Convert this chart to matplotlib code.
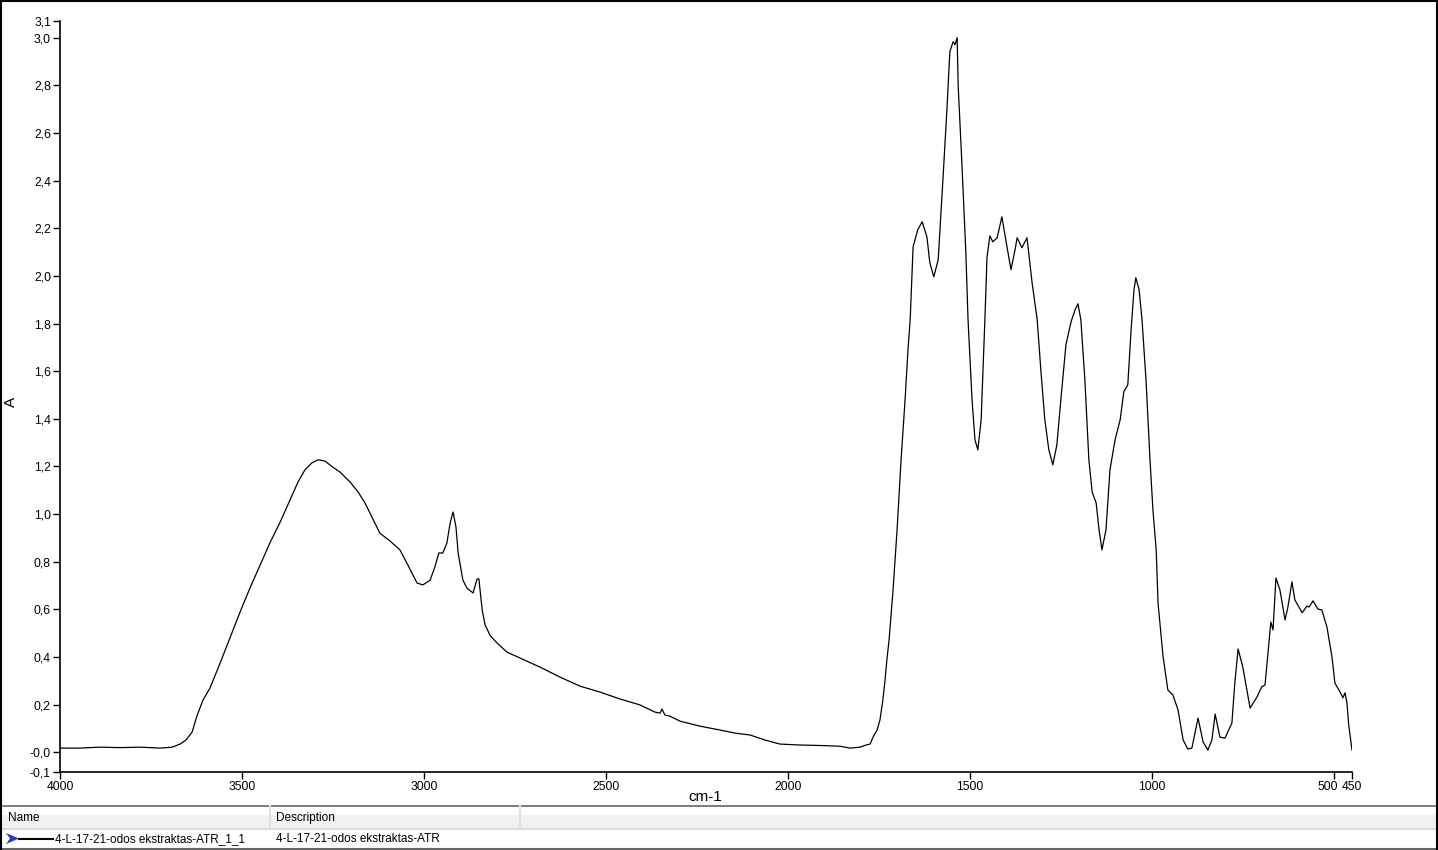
"""
ATR-IR spectrum of 4-L-17-21-odos ekstraktas, redrawn from a screenshot.
"""

import matplotlib
matplotlib.use("Agg")
import matplotlib.pyplot as plt
from matplotlib.patches import Polygon, Rectangle
from matplotlib.transforms import ScaledTranslation

# wavenumber (cm-1) and absorbance
wavenumber = [
    4000, 3945, 3890, 3835, 3780, 3725, 3692, 3670, 3654, 3637, 3624, 3607, 3588,
    3560, 3533, 3505, 3478, 3450, 3423, 3395, 3368, 3346, 3327, 3308, 3291, 3272,
    3253, 3231, 3203, 3181, 3162, 3143, 3121, 3093, 3066, 3047, 3019, 3003, 2983,
    2970, 2959, 2948, 2937, 2928, 2920, 2912, 2906, 2893, 2882, 2865, 2854, 2849,
    2840, 2832, 2818, 2799, 2772, 2736, 2681, 2626, 2571, 2516, 2461, 2406, 2365, 2351,
    2346, 2338, 2324, 2296, 2241, 2187, 2145, 2104, 2063, 2022, 1967, 1912, 1857,
    1829, 1802, 1785, 1774, 1766, 1755, 1747, 1739, 1733, 1728, 1722, 1711, 1700,
    1689, 1678, 1670, 1664, 1656, 1643, 1631, 1618, 1610, 1599, 1587, 1574, 1563,
    1555, 1546, 1541, 1535, 1532, 1522, 1511, 1505, 1494, 1486, 1478, 1469, 1458,
    1453, 1445, 1437, 1425, 1412, 1398, 1387, 1376, 1370, 1357, 1343, 1329, 1315,
    1305, 1294, 1283, 1272, 1261, 1250, 1236, 1222, 1211, 1203, 1195, 1184, 1173,
    1164, 1153, 1145, 1137, 1126, 1115, 1101, 1087, 1077, 1066, 1057, 1049, 1044,
    1035, 1027, 1016, 1005, 997, 988, 983, 969, 956, 942, 928, 914, 901, 890, 873,
    859, 846, 835, 826, 813, 799, 780, 772, 763, 750, 730, 711, 698, 689, 681, 673,
    667, 659, 648, 634, 626, 615, 607, 587, 574, 568, 557, 544, 533, 519, 505, 497,
    483, 475, 469, 464, 459, 450,
]
absorbance = [
    0.018, 0.018, 0.022, 0.020, 0.022, 0.018, 0.022, 0.035, 0.052, 0.085, 0.152, 0.220, 0.270,
    0.375, 0.480, 0.590, 0.690, 0.787, 0.880, 0.967, 1.060, 1.135, 1.186, 1.215, 1.228, 1.223,
    1.200, 1.177, 1.135, 1.093, 1.047, 0.988, 0.920, 0.887, 0.850, 0.795, 0.711, 0.703, 0.723,
    0.778, 0.837, 0.837, 0.879, 0.963, 1.009, 0.946, 0.837, 0.723, 0.690, 0.669, 0.728, 0.728,
    0.598, 0.535, 0.490, 0.459, 0.421, 0.396, 0.358, 0.316, 0.278, 0.253, 0.224, 0.199, 0.169, 0.165,
    0.182, 0.157, 0.152, 0.131, 0.110, 0.094, 0.081, 0.073, 0.052, 0.035, 0.031, 0.029, 0.026,
    0.018, 0.022, 0.031, 0.035, 0.064, 0.094, 0.136, 0.220, 0.304, 0.388, 0.472, 0.682, 0.934,
    1.228, 1.480, 1.690, 1.816, 2.122, 2.194, 2.227, 2.164, 2.055, 1.996, 2.068, 2.404, 2.698,
    2.941, 2.983, 2.970, 3.000, 2.794, 2.475, 2.097, 1.816, 1.480, 1.312, 1.270, 1.396, 1.845,
    2.076, 2.168, 2.143, 2.160, 2.248, 2.122, 2.026, 2.109, 2.160, 2.118, 2.160, 1.971, 1.816,
    1.606, 1.396, 1.270, 1.207, 1.290, 1.480, 1.711, 1.807, 1.857, 1.883, 1.816, 1.564, 1.228,
    1.093, 1.047, 0.934, 0.850, 0.934, 1.186, 1.312, 1.396, 1.514, 1.543, 1.774, 1.942, 1.992,
    1.942, 1.816, 1.564, 1.228, 1.018, 0.850, 0.627, 0.401, 0.262, 0.241, 0.178, 0.052, 0.014, 0.018, 0.144,
    0.043, 0.010, 0.052, 0.161, 0.064, 0.060, 0.123, 0.291, 0.434, 0.358, 0.186, 0.233, 0.275, 0.283, 0.417, 0.547,
    0.514, 0.732, 0.682, 0.556, 0.611, 0.716, 0.640, 0.586, 0.614, 0.610, 0.636, 0.602, 0.598, 0.527, 0.401, 0.291,
    0.254, 0.229, 0.250, 0.208, 0.115, 0.010,
]

x_ticks = [4000, 3500, 3000, 2500, 2000, 1500, 1000, 500, 450]
x_tick_labels = ["4000", "3500", "3000", "2500", "2000", "1500", "1000", "500", "450"]
y_ticks = [-0.081, 0.0, 0.2, 0.4, 0.6, 0.8, 1.0, 1.2, 1.4, 1.6, 1.8, 2.0, 2.2, 2.4, 2.6, 2.8, 3.0, 3.071]
y_tick_labels = ["-0,1", "-0,0", "0,2", "0,4", "0,6", "0,8", "1,0", "1,2", "1,4", "1,6", "1,8",
                 "2,0", "2,2", "2,4", "2,6", "2,8", "3,0", "3,1"]

series_name = "4-L-17-21-odos ekstraktas-ATR_1_1"
series_desc = "4-L-17-21-odos ekstraktas-ATR"

W, H = 1438, 850
plt.rcParams["font.family"] = ["Liberation Sans", "DejaVu Sans"]
fig = plt.figure(figsize=(W / 100, H / 100), dpi=100)

# spectrum axes
ax = fig.add_axes([60 / W, (H - 771.7) / H, 1292 / W, 751 / H])
ax.plot(wavenumber, absorbance, color="black", lw=0.9)
ax.set_xlim(4000, 450)
ax.set_ylim(y_ticks[0], y_ticks[-1])
ax.set_xticks(x_ticks)
ax.set_xticklabels(x_tick_labels, fontsize=8.7)
ax.set_yticks(y_ticks)
ax.set_yticklabels(y_tick_labels, fontsize=8.7)
ax.tick_params(direction="out", length=5, width=1, pad=1.5)
for side in ["top", "right"]:
    ax.spines[side].set_visible(False)
for side in ["left", "bottom"]:
    ax.spines[side].set_linewidth(1.2)

# the 500 label sits a little left so it does not run into 450
lbl500 = ax.get_xticklabels()[x_tick_labels.index("500")]
lbl500.set_transform(lbl500.get_transform() + ScaledTranslation(-0.06, 0, fig.dpi_scale_trans))

fig.text(705 / W, 1 - 797 / H, "cm-1", fontsize=11, ha="center", va="center")
fig.text(11 / W, 1 - 402 / H, "A", fontsize=11, ha="center", va="center", rotation=90)

# overlay in pixel coordinates for the frame and the legend table
ov = fig.add_axes([0, 0, 1, 1], zorder=-1)
ov.set_xlim(0, W)
ov.set_ylim(H, 0)
ov.axis("off")

ov.add_patch(Rectangle((0, 815), W, 13, color="#f0f1f3", lw=0))
ov.plot([0, W], [805.5, 805.5], color="#666666", lw=1.2)
ov.plot([0, W], [828.5, 828.5], color="#d5d5d5", lw=1.2)
ov.plot([0, W], [849, 849], color="#666666", lw=1.5)
ov.plot([270, 270], [806, 828], color="#e0e0e0", lw=1.5)
ov.plot([520, 520], [806, 828], color="#e0e0e0", lw=1.5)
# outer frame
ov.plot([0.5, 0.5], [0, 849], color="black", lw=1.5)
ov.plot([W - 1, W - 1], [0, 849], color="black", lw=1.5)
ov.plot([0, W], [0.5, 0.5], color="black", lw=1.5)

ov.text(8, 818, "Name", fontsize=8.5, va="center", ha="left")
ov.text(276, 818, "Description", fontsize=8.5, va="center", ha="left")
ov.add_patch(Polygon([[6, 833], [19, 838.5], [6, 844], [10, 838.5]], closed=True,
                     color="#1f3fbf", lw=0))
ov.plot([19, 53], [839, 839], color="black", lw=1.5)
ov.text(55, 839, series_name, fontsize=8.5, va="center", ha="left")
ov.text(276, 839, series_desc, fontsize=8.5, va="center", ha="left")

fig.savefig("out.png", dpi=100)
